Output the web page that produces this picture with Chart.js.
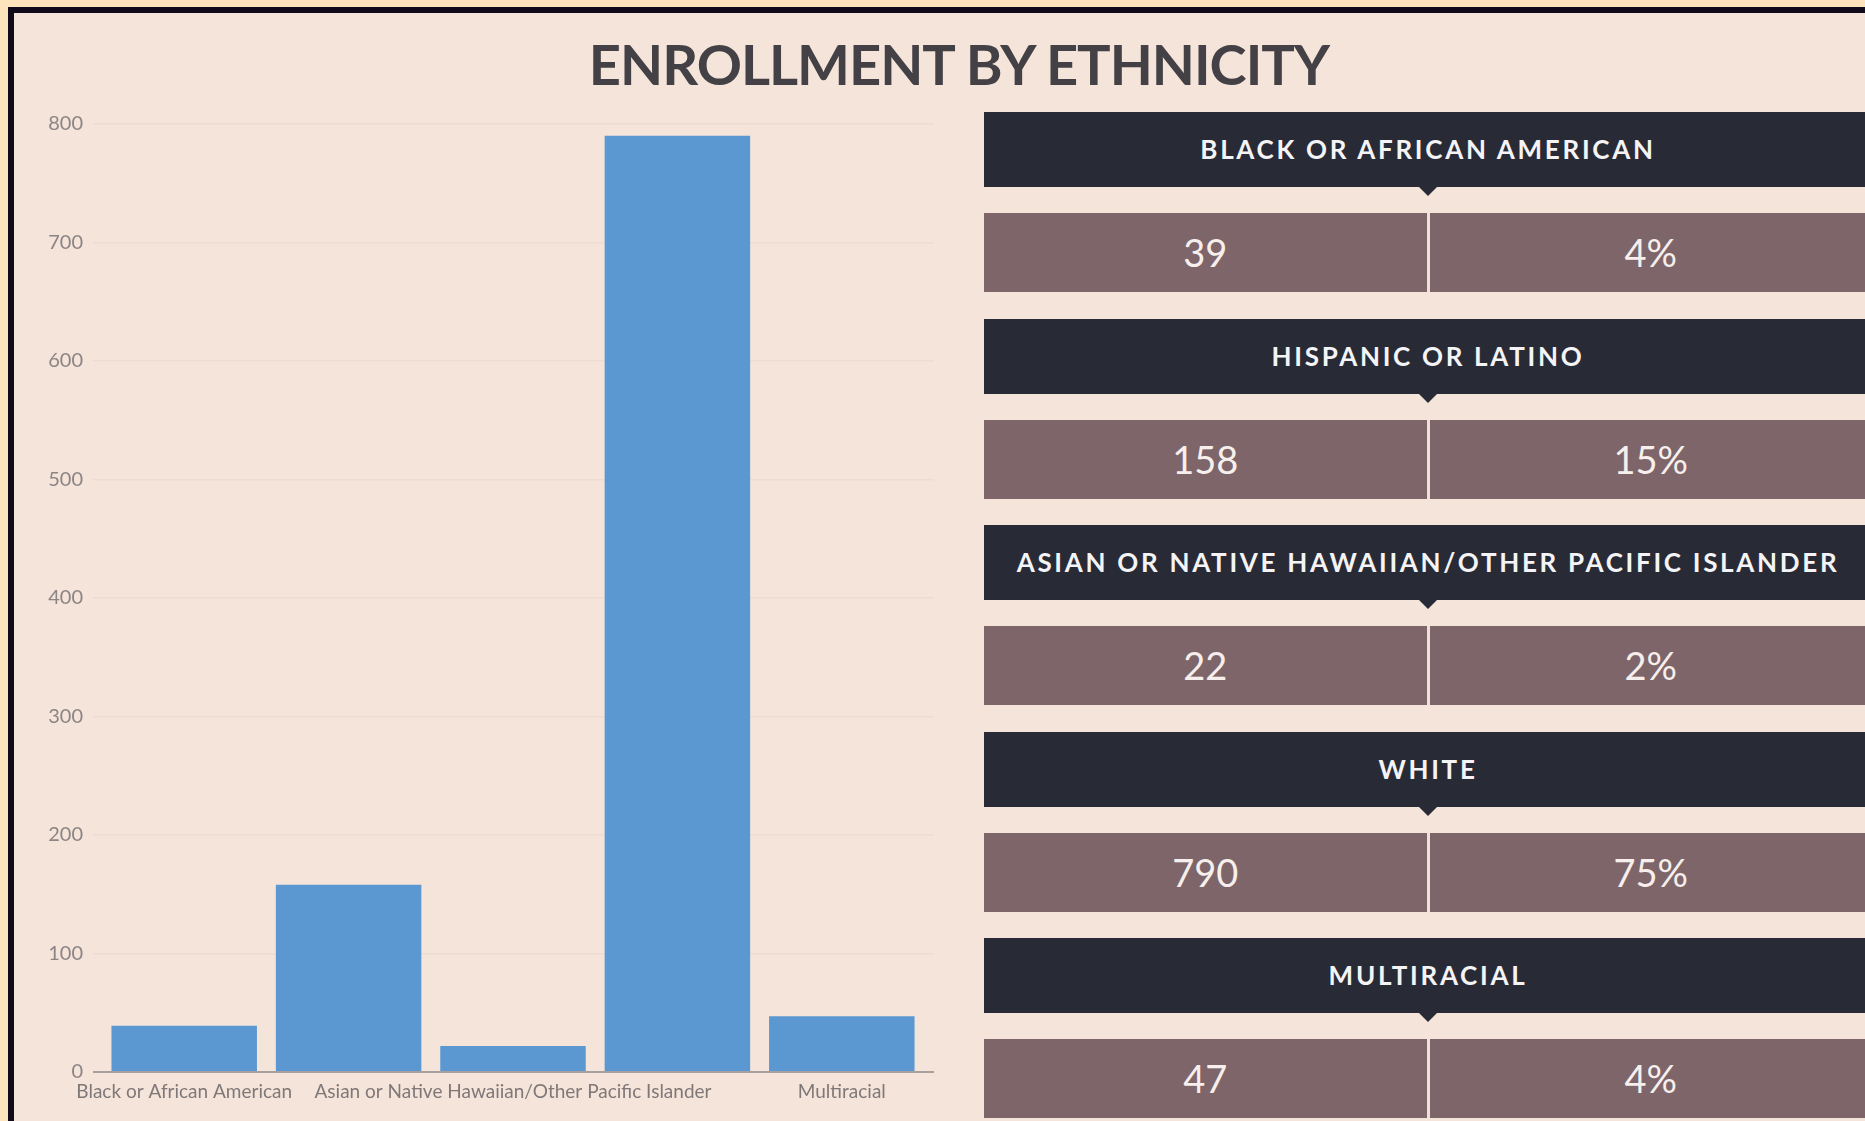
<!DOCTYPE html>
<html>
<head>
<meta charset="utf-8">
<title>Enrollment by Ethnicity</title>
<script src="https://cdn.jsdelivr.net/npm/chart.js@4"></script>
<style>
  html, body {
    margin: 0;
    padding: 0;
    width: 1865px;
    height: 1121px;
    overflow: hidden;
    background: #fde4bd;
    font-family: Lato, "Open Sans", sans-serif;
  }
  #frame {
    position: absolute;
    left: 8px;
    top: 7px;
    width: 1900px;
    height: 1200px;
    border-left: 6px solid #100b1a;
    border-top: 6px solid #100b1a;
    background: #f5e4da;
  }
  #title {
    position: absolute;
    left: 0;
    top: 30px;
    width: 1905px;
    font-family: Lato, sans-serif;
    font-weight: 700;
    font-size: 56px;
    letter-spacing: -1px;
    color: #434145;
  }
  #title span {
    position: absolute;
    left: 959px;
    transform: translateX(-50%);
    white-space: nowrap;
  }
  #chartBox {
    position: absolute;
    left: 14px;
    top: 100px;
    width: 920px;
    height: 1021px;
  }
  #panel {
    position: absolute;
    left: 984px;
    top: 112px;
    width: 888px;
  }
  .head {
    position: relative;
    height: 75px;
    line-height: 75px;
    margin-bottom: 26px;
    background: #282a36;
    color: #f4f4f6;
    text-align: center;
    font-weight: 700;
    font-size: 26px;
    letter-spacing: 2.7px;
    white-space: nowrap;
  }
  .head::after {
    content: '';
    position: absolute;
    left: 50%;
    bottom: -9px;
    margin-left: -9px;
    border-left: 9px solid transparent;
    border-right: 9px solid transparent;
    border-top: 9px solid #282a36;
  }
  .vals {
    display: flex;
    height: 79px;
    margin-bottom: 26.6px;
  }
  .vals div {
    flex: 1;
    background: #7e656a;
    color: #f6efec;
    text-align: center;
    line-height: 79px;
    font-size: 38px;
  }
  .vals .gap {
    flex: 0 0 3px;
    background: #efe0d8;
  }
</style>
</head>
<body>
<div id="frame"></div>
<div id="title"><span>ENROLLMENT BY ETHNICITY</span></div>
<div id="chartBox"><canvas id="ethnicityChart"></canvas></div>
<div id="panel"></div>

<script>
// Chart data
const categories = [
  'Black or African American',
  'Hispanic or Latino',
  'Asian or Native Hawaiian/Other Pacific Islander',
  'White',
  'Multiracial'
];
const enrollment = [39, 158, 22, 790, 47];
const percentages = [4, 15, 2, 75, 4];
const yTicks = [0, 100, 200, 300, 400, 500, 600, 700, 800];

// Right side summary boxes
const panel = document.getElementById('panel');
categories.forEach((name, i) => {
  const head = document.createElement('div');
  head.className = 'head';
  head.textContent = name.toUpperCase();
  panel.appendChild(head);

  const vals = document.createElement('div');
  vals.className = 'vals';
  const count = document.createElement('div');
  count.textContent = enrollment[i];
  const gap = document.createElement('div');
  gap.className = 'gap';
  const pct = document.createElement('div');
  pct.textContent = percentages[i] + '%';
  vals.appendChild(count);
  vals.appendChild(gap);
  vals.appendChild(pct);
  panel.appendChild(vals);
});

// Grid colours: zero line is the darker axis line
const gridColor = '#eddcd2';
const axisColor = '#a8a09c';
const lineColor = (c) => (c.tick && c.tick.value === 0 ? axisColor : gridColor);
const lineWidth = (c) => (c.tick && c.tick.value === 0 ? 2 : 1.5);

// Bar chart
const ctx = document.getElementById('ethnicityChart').getContext('2d');
const chart = new Chart(ctx, {
  type: 'bar',
  data: {
    labels: categories,
    datasets: [{
      label: 'Enrollment',
      data: enrollment,
      backgroundColor: '#5b98d2',
      borderWidth: 0,
      barPercentage: 1,
      categoryPercentage: 0.885
    }]
  },
  options: {
    responsive: true,
    maintainAspectRatio: false,
    animation: false,
    layout: {
      padding: { top: 24, right: 0, bottom: 0, left: 0 }
    },
    plugins: {
      legend: { display: false },
      tooltip: { enabled: false }
    },
    scales: {
      x: {
        grid: { display: false, drawTicks: false },
        border: { display: false },
        ticks: {
          autoSkip: false,
          maxRotation: 0,
          padding: 8,
          color: '#7f7878',
          font: { family: 'Lato', size: 19 },
          // only every other label fits under the bars
          callback: (value, index) => (index % 2 === 0 ? categories[index] : '')
        },
        afterFit: (scale) => { scale.height = 49; }
      },
      y: {
        min: 0,
        max: 800,
        afterBuildTicks: (scale) => { scale.ticks = yTicks.map(v => ({ value: v })); },
        grid: { color: lineColor, tickColor: lineColor, lineWidth: lineWidth, drawTicks: true, tickLength: 9 },
        border: { display: false },
        ticks: {
          padding: 10,
          color: '#8c8585',
          font: { family: 'Lato', size: 20 }
        },
        afterFit: (scale) => { scale.width = 88; }
      },
      // empty right axis, only to carry the grid lines a little past the bars
      yRight: {
        position: 'right',
        min: 0,
        max: 800,
        afterBuildTicks: (scale) => { scale.ticks = yTicks.map(v => ({ value: v })); },
        grid: { drawOnChartArea: false, color: lineColor, tickColor: lineColor, lineWidth: lineWidth, drawTicks: true, tickLength: 10 },
        border: { display: false },
        ticks: { display: false },
        afterFit: (scale) => { scale.width = 10; }
      }
    }
  }
});
</script>
</body>
</html>
